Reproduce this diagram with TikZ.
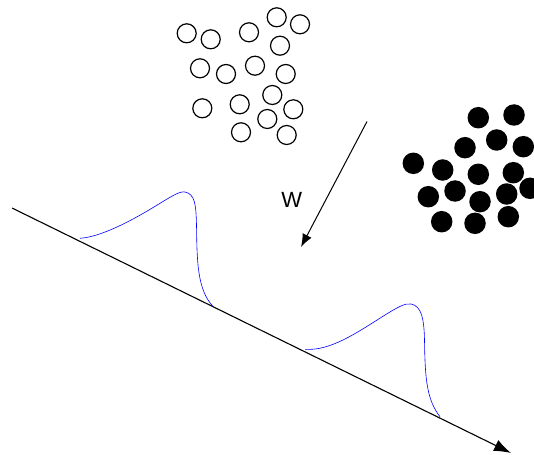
\documentclass[tikz,border=0pt]{standalone}
\usepackage{fontspec}
\setmainfont{Liberation Sans}
\usetikzlibrary{arrows.meta}
\begin{document}
\begin{tikzpicture}[x=1pt,y=-1pt,
  opencirc/.style={circle,draw=black,line width=1.2pt,minimum size=19pt,inner sep=0pt},
  fullcirc/.style={circle,fill=black,minimum size=21.5pt,inner sep=0pt},
  axisline/.style={line width=1.1pt,-{Latex[length=17pt,width=12pt]}},
  warrow/.style={line width=1pt,-{Latex[length=13pt,width=10pt]}},
  bump/.style={blue,line width=0.6pt}]
\useasboundingbox (0,0) rectangle (534,454);
% open circles
\foreach \i/\x/\y in {1/186.7/33.3,2/210.7/39.3,3/249/32.3,4/276.7/17.3,5/300/24.3,6/280/45.7,7/200/68.3,8/226/74,9/255/65.7,10/285.7/74,11/272.3/95,12/202.3/108.3,13/239.7/104.3,14/293.3/109.3,15/267.3/119,16/241/132.3,17/286.7/135}
  \node[opencirc] (o\i) at (\x,\y) {};
% filled circles
\foreach \i/\x/\y in {1/478.3/117.7,2/514/115,3/496.7/140,4/465/147.7,5/523.3/146.7,6/413.3/163.3,7/442.7/170,8/478.3/174.3,9/513.3/172.7,10/428.3/196.7,11/455/191,12/480/201.7,13/506.7/194,14/530/188.3,15/441.7/221.7,16/475/223.3,17/508.3/216.7}
  \node[fullcirc] (f\i) at (\x,\y) {};
% axis
\coordinate (a0) at (12,208);
\coordinate (a1) at (511,453);
\draw[axisline] (a0) -- (a1);
% W arrow
\coordinate (w0) at (367,121.5);
\coordinate (w1) at (301,247);
\draw[warrow] (w0) -- (w1);
\node[font=\fontsize{22}{22}\selectfont,inner sep=0pt] (wl) at (291.7,199.5) {W};
% bumps
\draw[bump] (80,238.3) .. controls (100,237) and (130,222) .. (160,203.3)
  .. controls (172,196) and (180,191) .. (185,192)
  .. controls (195,194) and (196,205) .. (196.5,225)
  .. controls (197,260) and (197,290) .. (213.3,306.7);
\draw[bump] (305,349.3) .. controls (330,351) and (355,334) .. (385,315)
  .. controls (398,307) and (405,303) .. (411,304)
  .. controls (422,306) and (424,320) .. (424.5,340)
  .. controls (425,380) and (427,400) .. (440,416.7);
\end{tikzpicture}
\end{document}
